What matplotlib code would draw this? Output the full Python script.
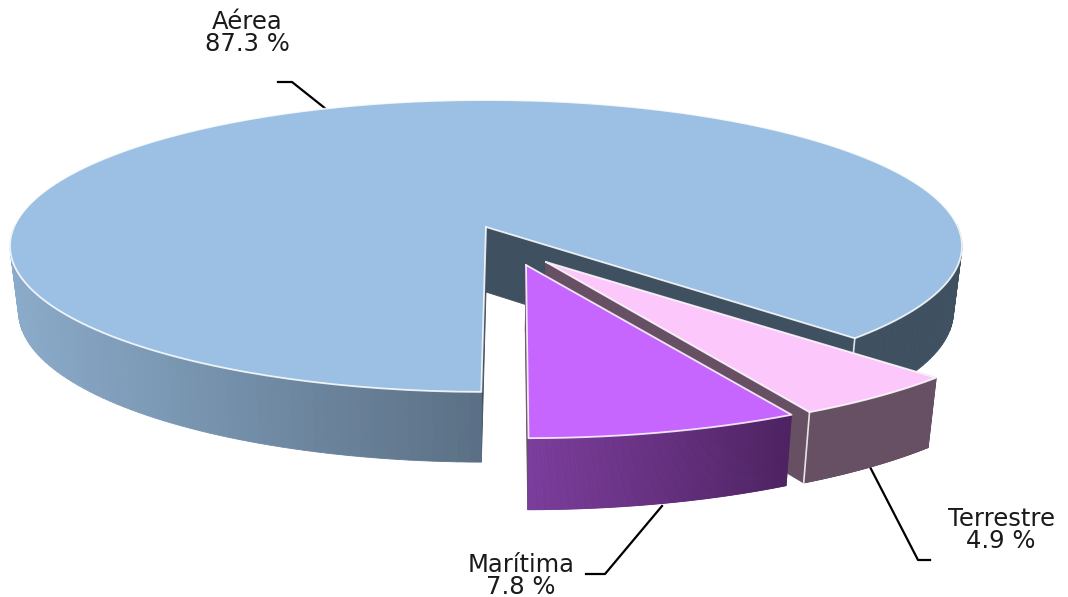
# -*- coding:utf-8 -*-
import numpy as np
from matplotlib import pyplot as plt
from matplotlib.colors import to_rgb

categories = ['Aérea', 'Terrestre', 'Marítima']
shares = [87.3, 4.9, 7.8]

top_colors = ['#9bc0e3', '#fcc8fc', '#c765ff']
wall_left = ['#8babca', '#675064', '#7b3c9c']
wall_right = ['#5a6f84', '#675064', '#4e2362']
cut_colors = ['#3f5060', '#675064', '#675064']

# posicion de cada rebanada respecto al centro, su escala y un pequeno giro
offsets = [(0, 0), (60, 35), (40, 38)]
scales = [1.0, 1.05, 1.05]
tilts = [-0.5, 0.0, 0.25]
start_angle = 270

cx, cy = 486, 227
A, B, k = 472, 143.5, 0.13
depth = 65
shrink = 0.018


def project(theta, r, off, scale, z=0.0):
    # perspectiva simple del circulo al plano de la imagen
    u = r * np.cos(np.radians(theta))
    v = r * np.sin(np.radians(theta))
    w = 1 + k * v
    x = off[0] + scale * A * u / w
    y = off[1] - scale * B * v / w
    d = depth * (1 - 0.08 * (v - off[1] / B))
    return cx + x * (1 - shrink * z), cy + y + d * z


def quad(ax, t0, t1, r0, r1, off, scale, color, zorder):
    x0, y0 = project(t0, r0, off, scale)
    x1, y1 = project(t1, r1, off, scale)
    x2, y2 = project(t1, r1, off, scale, 1)
    x3, y3 = project(t0, r0, off, scale, 1)
    ax.fill([x0, x1, x2, x3], [y0, y1, y2, y3], color=color, lw=0.6, zorder=zorder)


def corner_line(ax, t, off, scale, zorder):
    x0, y0 = project(t, 1, off, scale)
    x1, y1 = project(t, 1, off, scale, 1)
    ax.plot([x0, x1], [y0, y1], color='white', lw=1.2, alpha=0.85, zorder=zorder)


def draw_slice(ax, i, t_start, t_end, zorder):
    off, scale = offsets[i], scales[i]
    left = np.array(to_rgb(wall_left[i]))
    right = np.array(to_rgb(wall_right[i]))

    # caras interiores del corte
    quad(ax, t_end, t_end, 0, 1, off, scale, cut_colors[i], zorder)
    quad(ax, t_start, t_start, 0, 1, off, scale, cut_colors[i], zorder)

    # pared exterior, solo la parte frontal
    ts = np.linspace(t_start, t_end, 240)
    for a, b in zip(ts[:-1], ts[1:]):
        mid = (a + b) / 2
        if np.sin(np.radians(mid)) > 0.02:
            continue
        x_mid = project(mid, 1, off, scale)[0]
        if i == 0 and x_mid > cx:
            color = cut_colors[0]
        else:
            if i == 0:
                f = np.clip((x_mid - 10) / (cx - 10), 0, 1)
            else:
                f = (mid - t_start) / (t_end - t_start)
            color = tuple(left * (1 - f) + right * f)
        quad(ax, a, b, 1, 1, off, scale, color, zorder)

    # tapa
    xs, ys = project(ts, 1, off, scale)
    ax0, ay0 = project(0, 0, off, scale)
    px = np.r_[ax0, xs, ax0]
    py = np.r_[ay0, ys, ay0]
    ax.fill(px, py, color=top_colors[i], lw=0, zorder=zorder + 0.1)
    ax.plot(px, py, color='white', lw=1.3, alpha=0.85, zorder=zorder + 0.2)


fig = plt.figure(figsize=(10.68, 5.97), dpi=100)
ax = fig.add_axes([0, 0, 1, 1])
ax.set_xlim(0, 1068)
ax.set_ylim(597, 0)
ax.axis('off')

# las rebanadas van en sentido horario desde abajo
angle = start_angle
for i, share in enumerate(shares):
    sweep = share / sum(shares) * 360
    t_start = angle - sweep + tilts[i]
    draw_slice(ax, i, t_start, angle + tilts[i], 1 + i)
    if i < 2:
        corner_line(ax, t_start, offsets[i], scales[i], 1.3 + i)
    angle -= sweep

# lineas guia
ax.plot([278, 292, 326], [82, 82, 109], color='black', lw=1.6, zorder=0.5)
ax.plot([870, 918, 930], [467, 560, 560], color='black', lw=1.6, zorder=0.5)
ax.plot([662, 605, 586], [506, 574, 574], color='black', lw=1.6, zorder=0.5)

labels = [f'{c}\n{s} %' for c, s in zip(categories, shares)]
label_pos = [(247, 33), (1001, 530), (521, 576)]
for text, (x, y) in zip(labels, label_pos):
    ax.text(x, y, text, ha='center', va='center', fontsize=17.5, color='#1a1a1a',
            family=['DejaVu Sans'], linespacing=0.85)

fig.savefig('out.png', dpi=100)
